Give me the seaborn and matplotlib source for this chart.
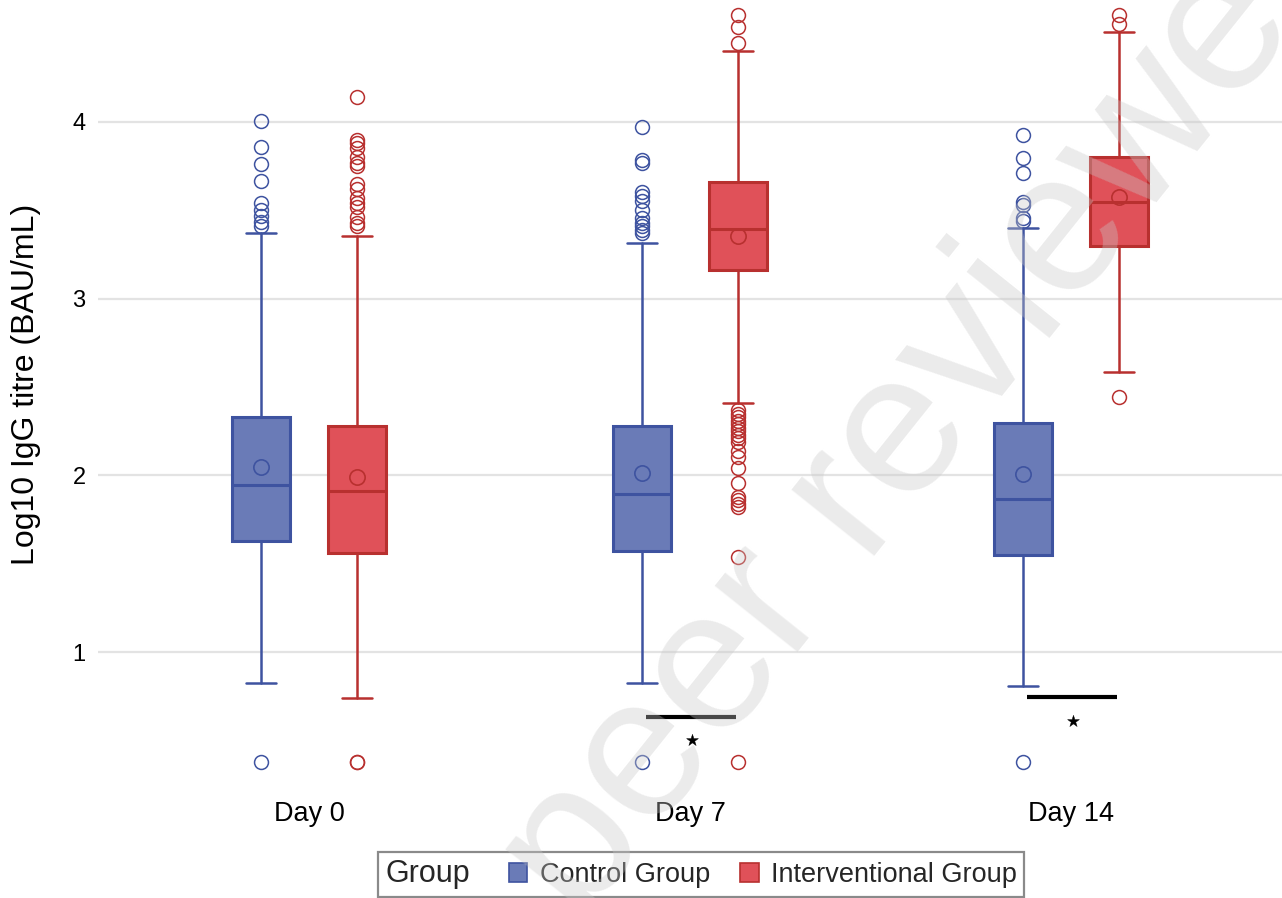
import matplotlib
matplotlib.use("Agg")
import matplotlib.pyplot as plt
import matplotlib.patches as mpatches
from matplotlib.offsetbox import HPacker, DrawingArea
import seaborn as sns
import numpy as np

# categories
days = ["Day 0", "Day 7", "Day 14"]
groups = ["Control Group", "Interventional Group"]

# box statistics (log10 IgG titre)
control_q1 = [1.63, 1.57, 1.55]
control_med = [1.945, 1.895, 1.866]
control_q3 = [2.33, 2.28, 2.295]
control_mean = [2.05, 2.015, 2.006]
control_whislo = [0.827, 0.827, 0.81]
control_whishi = [3.373, 3.317, 3.40]
control_fliers = [
    [4.006, 3.86, 3.76, 3.666, 3.54, 3.50, 3.47, 3.436, 3.41, 0.376],
    [3.97, 3.785, 3.766, 3.605, 3.58, 3.55, 3.50, 3.455, 3.43, 3.41, 3.39, 3.37, 0.376],
    [3.926, 3.795, 3.71, 3.545, 3.53, 3.455, 3.44, 0.376],
]

interv_q1 = [1.563, 3.16, 3.30]
interv_med = [1.913, 3.393, 3.545]
interv_q3 = [2.28, 3.66, 3.80]
interv_mean = [1.99, 3.355, 3.577]
interv_whislo = [0.739, 2.408, 2.587]
interv_whishi = [3.355, 4.40, 4.51]
interv_fliers = [
    [4.143, 3.90, 3.88, 3.85, 3.80, 3.77, 3.75, 3.65, 3.62, 3.57, 3.54, 3.52, 3.46, 3.43, 3.41, 0.376, 0.376],
    [4.605, 4.54, 4.445, 2.37, 2.35, 2.33, 2.31, 2.29, 2.27, 2.25, 2.23, 2.21, 2.19, 2.14, 2.105,
     2.04, 1.955, 1.88, 1.86, 1.84, 1.82, 1.54, 0.376],
    [4.605, 4.555, 2.445],
]

# significance markers
sig_days = ["Day 7", "Day 14"]
sig_bar_y = [0.631, 0.744]
sig_star_y = [0.503, 0.61]

blue_fill, blue_edge = "#6a7bb7", "#3e53a0"
red_fill, red_edge = "#e05159", "#b8302f"

sns.set_theme(style="whitegrid")
plt.rcParams['font.family'] = ['Liberation Sans', 'DejaVu Sans']


def make_stats(q1, med, q3, mean, lo, hi, fliers):
    return [dict(q1=a, med=b, q3=c, mean=d, whislo=e, whishi=f, fliers=g)
            for a, b, c, d, e, f, g in zip(q1, med, q3, mean, lo, hi, fliers)]


fig = plt.figure(figsize=(12.82, 8.98), dpi=100)
ax = fig.add_axes([98 / 1282, 108 / 898, 1184 / 1282, 790 / 898])
ax.set_facecolor("white")

x = np.arange(len(days))
offset = 0.126
sets = [
    (make_stats(control_q1, control_med, control_q3, control_mean, control_whislo, control_whishi, control_fliers),
     -offset, blue_fill, blue_edge),
    (make_stats(interv_q1, interv_med, interv_q3, interv_mean, interv_whislo, interv_whishi, interv_fliers),
     offset, red_fill, red_edge),
]
for stats, shift, fill, edge in sets:
    ax.bxp(stats, positions=x + shift, widths=0.152, capwidths=0.079, patch_artist=True,
           showmeans=True, manage_ticks=False,
           boxprops=dict(facecolor=fill, edgecolor=edge, linewidth=2.2),
           medianprops=dict(color=edge, linewidth=2.2),
           whiskerprops=dict(color=edge, linewidth=1.8),
           capprops=dict(color=edge, linewidth=1.8),
           meanprops=dict(marker='o', markerfacecolor='none', markeredgecolor=edge,
                          markersize=11, markeredgewidth=1.2),
           flierprops=dict(marker='o', markerfacecolor='none', markeredgecolor=edge,
                           markersize=10, markeredgewidth=1.1))

# significance bars and stars
sig_x = np.array([days.index(d) for d in sig_days])
ax.hlines(sig_bar_y, sig_x - 0.115, sig_x + 0.12, color="black", linewidth=3, zorder=3)
sns.scatterplot(x=sig_x + 0.005, y=sig_star_y, marker='*', s=80, color="black",
                edgecolor="black", linewidth=0.3, ax=ax, legend=False, zorder=4)

ax.set_xlim(-0.554, 2.554)
ax.set_ylim(0.2196, 4.690)
ax.set_xticks(x, days)
ax.set_yticks([1, 2, 3, 4])
ax.tick_params(axis='x', length=0, labelsize=19.5, pad=8, labelcolor="black")
ax.tick_params(axis='y', length=0, labelsize=17, pad=9, labelcolor="black")
ax.grid(axis='y', color="#e3e3e3", linewidth=1.6)
ax.grid(axis='x', visible=False)
for s in ax.spines.values():
    s.set_visible(False)
ax.set_xlabel("")
ax.set_ylabel("Log10 IgG titre (BAU/mL)", fontsize=23, color="black")
ax.yaxis.set_label_coords(-0.048, 0.513)

# legend with the title placed inline on the left
handles = [mpatches.Patch(facecolor=blue_fill, edgecolor=blue_edge, linewidth=1.2),
           mpatches.Patch(facecolor=red_fill, edgecolor=red_edge, linewidth=1.2)]
leg = fig.legend(handles, groups, title="Group", ncol=2, loc="lower center",
                 bbox_to_anchor=(0.547, 1 / 898), borderaxespad=0,
                 fontsize=19.5, title_fontsize=22,
                 frameon=True, fancybox=False, framealpha=1, edgecolor="#8a8a8a",
                 handlelength=0.7, handleheight=0.7, handletextpad=0.45,
                 columnspacing=1.1, borderpad=0.28)
leg.get_frame().set_linewidth(1.6)
vp = leg.get_children()[0]
title_box, handle_box = vp.get_children()
vp._children = [handle_box]
title_pack = HPacker(children=[title_box, DrawingArea(6, 1, 0, 0)], pad=0, sep=0, align="baseline")
title_pack.set_figure(fig)
handle_box._children.insert(0, title_pack)

# preprint watermark
fig.text(580 / 1282, 1 - 925 / 898, "peer reviewed", rotation=51.4, rotation_mode="anchor",
         ha="left", va="baseline", fontsize=145, color="#c8c8c8", alpha=0.36, zorder=10)

fig.savefig("out.png", dpi=100)
